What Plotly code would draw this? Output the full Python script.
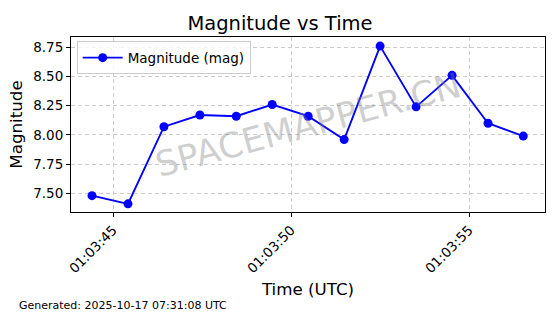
import plotly.graph_objects as go

times = ["2025-10-17 01:03:44.41", "2025-10-17 01:03:45.42", "2025-10-17 01:03:46.43",
         "2025-10-17 01:03:47.44", "2025-10-17 01:03:48.46", "2025-10-17 01:03:49.47",
         "2025-10-17 01:03:50.48", "2025-10-17 01:03:51.49", "2025-10-17 01:03:52.50",
         "2025-10-17 01:03:53.51", "2025-10-17 01:03:54.52", "2025-10-17 01:03:55.53",
         "2025-10-17 01:03:56.52"]
magnitude = [7.48, 7.41, 8.07, 8.17, 8.16, 8.26, 8.16, 7.96, 8.76, 8.24, 8.51, 8.10, 7.99]
y_ticks = [7.50, 7.75, 8.00, 8.25, 8.50, 8.75]

FONT = "DejaVu Sans"

fig = go.Figure()
fig.add_trace(go.Scatter(
    x=times, y=magnitude, mode="lines+markers", name="Magnitude (mag)",
    line=dict(color="#0000ff", width=1.9),
    marker=dict(color="#0000ff", size=9),
))

fig.update_layout(
    width=560, height=314,
    margin=dict(l=71, r=15, t=37, b=102),
    paper_bgcolor="white", plot_bgcolor="white",
    font=dict(family=FONT, color="black"),
    title=dict(text="Magnitude vs Time", x=0.5, xanchor="center", y=0.925, yanchor="middle",
               font=dict(size=19.5, family=FONT)),
    showlegend=True,
    legend=dict(x=0.012, y=0.975, xanchor="left", yanchor="top",
                bgcolor="rgba(255,255,255,0.8)", bordercolor="#cccccc", borderwidth=1,
                font=dict(size=13.5, family=FONT), itemwidth=40),
    xaxis=dict(
        type="date",
        range=["2025-10-17 01:03:43.82", "2025-10-17 01:03:57.13"],
        tick0="2025-10-17 01:03:45", dtick=5000, tickformat="%H:%M:%S",
        tickangle=-45, ticks="outside", ticklen=4, tickcolor="black",
        tickfont=dict(size=13.5, family=FONT),
        showgrid=True, gridcolor="#cccccc", griddash="4px,3px", gridwidth=0.8,
        showline=True, linecolor="black", linewidth=1, mirror=True,
        zeroline=False,
        title=dict(text="Time (UTC)", font=dict(size=16.7, family=FONT), standoff=8),
    ),
    yaxis=dict(
        range=[7.34, 8.838],
        tickmode="array", tickvals=y_ticks, ticktext=[f"{v:.2f}" for v in y_ticks],
        ticks="outside", ticklen=4, tickcolor="black",
        tickfont=dict(size=13.5, family=FONT),
        showgrid=True, gridcolor="#cccccc", griddash="4px,3px", gridwidth=0.8,
        showline=True, linecolor="black", linewidth=1, mirror=True,
        zeroline=False,
        title=dict(text="Magnitude", font=dict(size=16.7, family=FONT), standoff=6),
    ),
)

fig.add_annotation(
    text="SPACEMAPPER.CN", xref="paper", yref="paper", x=0.5, y=0.5,
    showarrow=False, textangle=-15,
    font=dict(size=35, family=FONT, color="rgba(128,128,128,0.38)"),
)
fig.add_annotation(
    text="Generated: 2025-10-17 07:31:08 UTC", xref="paper", yref="paper",
    x=(17 - 71) / 474, y=(212 - 305) / 175, xanchor="left", yanchor="middle", showarrow=False,
    font=dict(size=11, family=FONT, color="black"),
)

fig.write_html("out.html")
